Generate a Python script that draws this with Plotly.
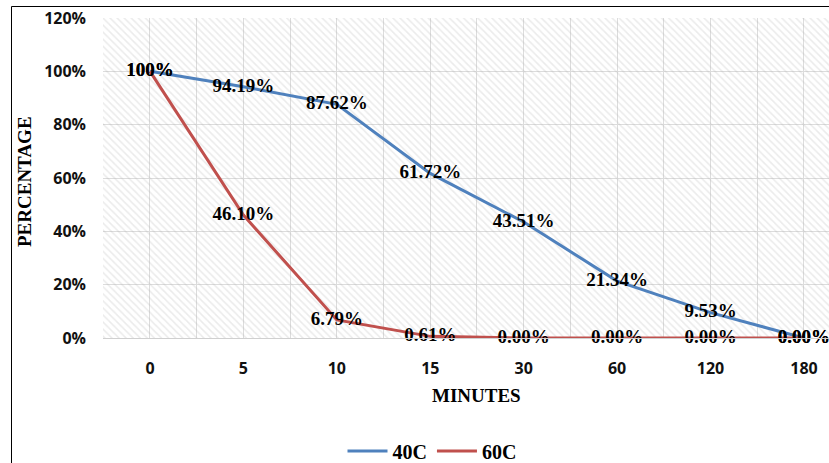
import plotly.graph_objects as go

minutes = ["0", "5", "10", "15", "30", "60", "120", "180"]
series_40c = [100, 94.19, 87.62, 61.72, 43.51, 21.34, 9.53, 0.00]
series_60c = [100, 46.10, 6.79, 0.61, 0.00, 0.00, 0.00, 0.00]
y_ticks = [0, 20, 40, 60, 80, 100, 120]

x_pos = list(range(len(minutes)))


def fmt(v):
    return "100%" if v == 100 else f"{v:.2f}%"


serif = "Liberation Serif"
label_font = dict(family=serif, size=19, color="#000000", weight="bold")

fig = go.Figure()

# hatched plot-area background
fig.add_trace(go.Bar(
    x=x_pos, y=[max(y_ticks)] * len(x_pos), width=1,
    marker=dict(color="rgba(0,0,0,0)", line=dict(width=0),
                pattern=dict(shape="\\", fgcolor="rgba(175,175,175,0.5)",
                             bgcolor="rgba(0,0,0,0)", size=5, solidity=0.3)),
    showlegend=False, hoverinfo="skip",
))

fig.add_trace(go.Scatter(
    x=x_pos, y=series_40c, mode="lines", name="40C",
    line=dict(color="#4F81BD", width=3), hoverinfo="skip",
))
fig.add_trace(go.Scatter(
    x=x_pos, y=series_60c, mode="lines", name="60C",
    line=dict(color="#C0504D", width=3), hoverinfo="skip",
))
# data labels drawn above both lines
fig.add_trace(go.Scatter(
    x=x_pos, y=series_40c, mode="text", showlegend=False, cliponaxis=False,
    text=[fmt(v) for v in series_40c], textposition="middle center",
    textfont=label_font, hoverinfo="skip",
))
fig.add_trace(go.Scatter(
    x=x_pos, y=series_60c, mode="text", showlegend=False, cliponaxis=False,
    text=[fmt(v) for v in series_60c], textposition="middle center",
    textfont=label_font, hoverinfo="skip",
))

fig.update_layout(
    width=829, height=463,
    margin=dict(l=103, r=0, t=18, b=125, autoexpand=False),
    paper_bgcolor="white", plot_bgcolor="white",
    bargap=0,
    xaxis=dict(
        range=[-0.503, 7.268], tickmode="array", tickvals=x_pos, ticktext=minutes,
        showgrid=True, gridcolor="#dcdcdc", gridwidth=1,
        minor=dict(tickmode="array", tickvals=[i + 0.5 for i in range(-1, len(minutes))],
                   showgrid=True, gridcolor="#dcdcdc", gridwidth=1),
        showline=True, linecolor="#d0d0d0", linewidth=1,
        zeroline=False, ticks="", ticklabelstandoff=16,
        tickfont=dict(family="Open Sans", size=16, color="#111111", weight="bold"),
    ),
    yaxis=dict(
        range=[0, 120], tickmode="array", tickvals=y_ticks,
        ticktext=[f"{v}%" for v in y_ticks],
        showgrid=True, gridcolor="#dcdcdc", gridwidth=1,
        zeroline=False, showline=False, ticks="", ticklabelstandoff=16,
        tickfont=dict(family="Open Sans", size=16, color="#111111", weight="bold"),
    ),
    legend=dict(
        orientation="h", x=(432 - 103) / 726, xanchor="center",
        y=(338 - 451) / 320, yanchor="middle",
        font=dict(family=serif, size=20, color="#000000", weight="bold"),
        bgcolor="rgba(0,0,0,0)", itemwidth=40,
    ),
    font=dict(family=serif, weight="bold"),
    annotations=[
        dict(text="<b>MINUTES</b>", xref="paper", yref="paper",
             x=(476 - 103) / 726, y=(338 - 395) / 320, xanchor="center", yanchor="middle",
             showarrow=False, font=dict(family=serif, size=19, color="#000000")),
        dict(text="<b>PERCENTAGE</b>", xref="paper", yref="paper",
             x=(24 - 103) / 726, y=(338 - 182) / 320, xanchor="center", yanchor="middle",
             textangle=-90, showarrow=False,
             font=dict(family=serif, size=19, color="#000000")),
    ],
    shapes=[
        dict(type="rect", xref="paper", yref="paper",
             x0=(11.5 - 103) / 726, x1=1.2, y0=-0.6, y1=(338 - 6.5) / 320,
             line=dict(color="#000000", width=1), fillcolor="rgba(0,0,0,0)", layer="below"),
    ],
)

fig.write_html("out.html")
